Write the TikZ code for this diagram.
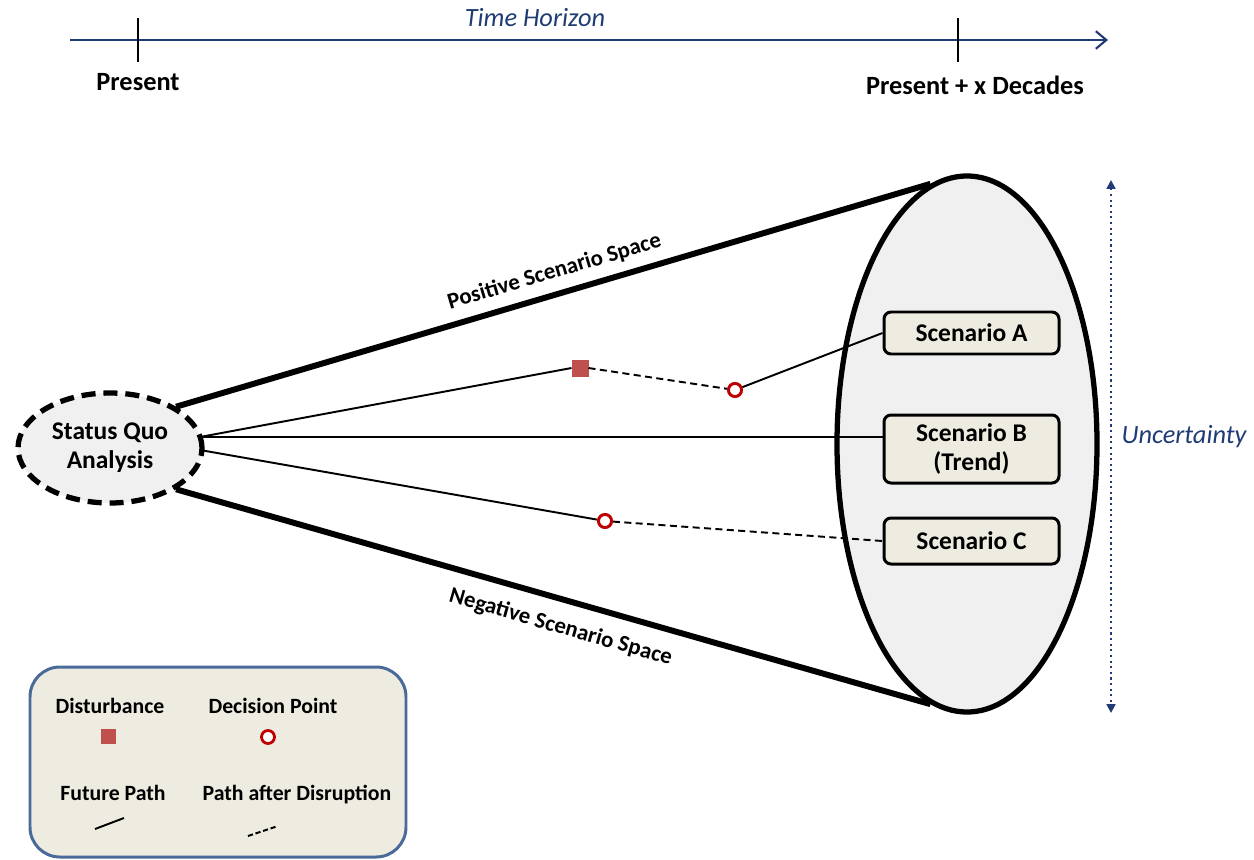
\documentclass[tikz,border=0pt]{standalone}
\usepackage{fontspec}
\setmainfont{Carlito}
\usetikzlibrary{shapes.geometric,arrows.meta}
\definecolor{navy}{HTML}{1F3C74}
\definecolor{beige}{HTML}{EEEBE0}
\definecolor{lightg}{HTML}{F0F0F0}
\definecolor{distred}{HTML}{C0504D}
\definecolor{decred}{HTML}{C00000}
\definecolor{legblue}{HTML}{4A6A9A}
\tikzset{
  lbl/.style={font=\fontsize{14.5}{16.5}\selectfont\bfseries, text=black},
  biglbl/.style={font=\fontsize{15}{17}\selectfont\bfseries, text=black},
  conelbl/.style={font=\fontsize{13}{15}\selectfont\bfseries, text=black},
  leglbl/.style={font=\fontsize{12.4}{14}\selectfont\bfseries, text=black},
  navylbl/.style={font=\fontsize{15}{17}\selectfont\itshape, text=navy},
  scen/.style={draw=black, line width=1.7pt, rounded corners=4pt, fill=beige, minimum width=175*0.02cm, inner sep=0pt, align=center, lbl},
  cone/.style={line width=3.4pt, black},
  fpath/.style={line width=1.1pt, black},
  dpath/.style={line width=1.1pt, black, dash pattern=on 4pt off 2.5pt},
  distsq/.style={fill=distred, minimum size=17*0.02cm, inner sep=0pt, outer sep=0pt},
  decpt/.style={circle, draw=decred, fill=white, line width=1.6pt, minimum size=13*0.02cm, inner sep=0pt},
}
\begin{document}
\begin{tikzpicture}[x=0.02cm, y=-0.02cm]
\useasboundingbox (0,0) rectangle (1254,859);
% time axis
\coordinate (ta) at (70,40);
\coordinate (tb) at (1108,40);
\draw[navy, line width=1.2pt, -{Straight Barb[length=6pt,width=10pt,line width=1.2pt]}] (ta) -- (tb);
\coordinate (t1a) at (138,18); \coordinate (t1b) at (138,62);
\coordinate (t2a) at (958,18); \coordinate (t2b) at (958,62);
\draw[line width=0.9pt] (t1a) -- (t1b);
\draw[line width=0.9pt] (t2a) -- (t2b);
\node[navylbl] (th) at (535,18) {Time Horizon};
\node[biglbl] (pres) at (138,82) {Present};
\node[biglbl] (presx) at (975,85) {Present + x Decades};

% big ellipse
\node[ellipse, draw=black, fill=lightg, line width=3pt, minimum width=260*0.02cm, minimum height=536*0.02cm, inner sep=0pt] (big) at (967,444) {};
% status quo
\node[ellipse, draw=black, fill=lightg, line width=3pt, dash pattern=on 8pt off 4.5pt, minimum width=184*0.02cm, minimum height=110*0.02cm, inner sep=0pt, align=center, lbl] (sq) at (110,448) {Status Quo\\Analysis};

% cone lines
\draw[cone] (sq.32) -- node[pos=0.51, above=2pt, sloped, conelbl] {Positive Scenario Space} (big.98);
\draw[cone] (sq.-32) -- node[pos=0.52, below=5pt, sloped, conelbl] {Negative Scenario Space} (big.-98);

% scenario boxes
\node[scen, minimum height=42*0.02cm] (sa) at (971.5,333) {Scenario A};
\node[scen, minimum height=68*0.02cm] (sb) at (971.5,449) {Scenario B\\(Trend)};
\node[scen, minimum height=46*0.02cm] (sc) at (971.5,541) {Scenario C};

% paths
\node[distsq] (d1) at (580,368) {};
\node[decpt] (p1) at (735,390) {};
\node[decpt] (p2) at (605,521) {};
\coordinate (sqa) at (200,437);
\coordinate (sqb) at (203,437);
\coordinate (sqc) at (200,450);
\coordinate (sbl) at (884,437);
\draw[fpath] (sqa) -- (d1.west);
\draw[dpath] (d1.east) -- (p1);
\draw[fpath] (p1) -- (sa.west);
\draw[fpath] (sqb) -- (sbl);
\draw[fpath] (sqc) -- (p2);
\draw[dpath] (p2) -- (sc.west);
\node[decpt] at (p1) {};
\node[decpt] at (p2) {};

% uncertainty
\coordinate (ua) at (1111,180);
\coordinate (ub) at (1111,713);
\draw[navy, line width=1.2pt, dotted, {Triangle[length=5pt,width=5pt]}-{Triangle[length=5pt,width=5pt]}] (ua) -- (ub);
\node[navylbl] (unc) at (1184,437) {Uncertainty};

% legend
\node[draw=legblue, fill=beige, line width=1.7pt, rounded corners=17pt, minimum width=376*0.02cm, minimum height=190*0.02cm, inner sep=0pt] (leg) at (218,762) {};
\node[leglbl] (l1) at (110,706) {Disturbance};
\node[distsq, minimum size=15*0.02cm] (l1s) at (108,736) {};
\node[leglbl] (l2) at (273,706) {Decision Point};
\node[decpt] (l2c) at (268,737) {};
\node[leglbl] (l3) at (113,793) {Future Path};
\node[leglbl] (l4) at (297,795) {Path after Disruption};
\coordinate (l3a) at (95,829); \coordinate (l3b) at (124,818);
\coordinate (l4a) at (248,836); \coordinate (l4b) at (278,826);
\draw[fpath] (l3a) -- (l3b);
\draw[line width=1.1pt, dash pattern=on 3pt off 1.5pt] (l4a) -- (l4b);
\end{tikzpicture}
\end{document}
